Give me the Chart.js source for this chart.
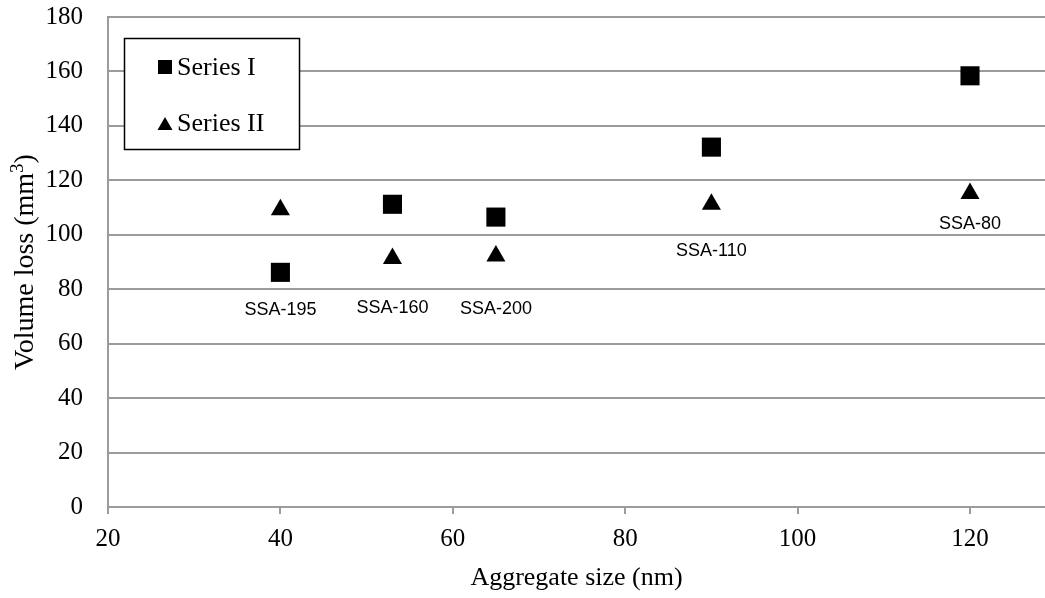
<!DOCTYPE html>
<html>
<head>
<meta charset="utf-8">
<script src="https://cdn.jsdelivr.net/npm/chart.js@4/dist/chart.umd.min.js"></script>
<style>
  html, body { margin: 0; padding: 0; background: #fff; overflow: hidden; }
  #wrap { width: 1045px; height: 598px; position: relative; }
  canvas { display: block; }
</style>
</head>
<body>
<div id="wrap"><canvas id="chart"></canvas></div>
<script>
// Aggregate size (nm) for each sample
const sizes = [40, 53, 65, 90, 120];
const seriesI = [86.2, 111.2, 106.5, 132.2, 158.4];
const seriesII = [109.2, 91.3, 92.2, 111.2, 115.2];
const sampleNames = ['SSA-195', 'SSA-160', 'SSA-200', 'SSA-110', 'SSA-80'];
// where each sample name sits, in y-axis units
const nameLevels = [72.4, 73.1, 72.7, 94.0, 104.0];
const xTicks = [20, 40, 60, 80, 100, 120];
const yTicks = [0, 20, 40, 60, 80, 100, 120, 140, 160, 180];

const gridGray = '#9b9b9b';
const serif = '"Liberation Serif", "Times New Roman", serif';

// sample names written under the markers
const sampleNamesPlugin = {
    id: 'sampleNames',
    afterDatasetsDraw(chart) {
        const ctx = chart.ctx;
        const xs = chart.scales.x, ys = chart.scales.y;
        ctx.save();
        ctx.fillStyle = '#000';
        ctx.font = '18px "Liberation Sans", Arial, sans-serif';
        ctx.textAlign = 'center';
        ctx.textBaseline = 'middle';
        sampleNames.forEach((name, i) => {
            ctx.fillText(name, xs.getPixelForValue(sizes[i]), ys.getPixelForValue(nameLevels[i]));
        });
        ctx.restore();
    }
};

// y title drawn by hand so the "3" can be a real superscript
const yTitlePlugin = {
    id: 'yTitle',
    afterDraw(chart) {
        const ctx = chart.ctx;
        const area = chart.chartArea;
        const main = 'Volume loss (mm', sup = '3', tail = ')';
        ctx.save();
        ctx.fillStyle = '#000';
        ctx.textBaseline = 'middle';
        ctx.textAlign = 'left';
        ctx.translate(26, (area.top + area.bottom) / 2);
        ctx.rotate(-Math.PI / 2);
        ctx.font = '28px ' + serif;
        const wMain = ctx.measureText(main).width;
        const wTail = ctx.measureText(tail).width;
        ctx.font = '19px ' + serif;
        const wSup = ctx.measureText(sup).width;
        let x = -(wMain + wSup + wTail) / 2;
        ctx.font = '28px ' + serif;
        ctx.fillText(main, x, 0);
        x += wMain;
        ctx.font = '19px ' + serif;
        ctx.fillText(sup, x, -8);
        x += wSup;
        ctx.font = '28px ' + serif;
        ctx.fillText(tail, x, 0);
        ctx.restore();
    }
};

// boxed legend inside the plot, like the Excel one
const boxLegendPlugin = {
    id: 'boxLegend',
    afterDraw(chart) {
        const ctx = chart.ctx;
        ctx.save();
        ctx.fillStyle = '#fff';
        ctx.fillRect(124.5, 38.5, 175, 111);
        ctx.strokeStyle = '#000';
        ctx.lineWidth = 1.5;
        ctx.strokeRect(124.5, 38.5, 175, 111);

        ctx.fillStyle = '#000';
        // square marker
        ctx.fillRect(158, 60, 14, 14);
        // triangle marker
        ctx.beginPath();
        ctx.moveTo(165, 117);
        ctx.lineTo(172.5, 130);
        ctx.lineTo(157.5, 130);
        ctx.closePath();
        ctx.fill();

        ctx.font = '26px ' + serif;
        ctx.textAlign = 'left';
        ctx.textBaseline = 'middle';
        ctx.fillText(chart.data.datasets[0].label, 177, 68);
        ctx.fillText(chart.data.datasets[1].label, 177, 124);
        ctx.restore();
    }
};

const toPoints = ys => sizes.map((x, i) => ({ x: x, y: ys[i] }));

new Chart(document.getElementById('chart'), {
    type: 'scatter',
    data: {
        datasets: [{
            label: 'Series I',
            data: toPoints(seriesI),
            pointStyle: 'rect',
            pointRadius: 13.5,
            backgroundColor: '#000',
            borderColor: '#000',
            borderWidth: 0
        }, {
            label: 'Series II',
            data: toPoints(seriesII),
            pointStyle: 'triangle',
            pointRadius: 11,
            backgroundColor: '#000',
            borderColor: '#000',
            borderWidth: 0
        }]
    },
    options: {
        responsive: true,
        maintainAspectRatio: false,
        animation: false,
        layout: {
            autoPadding: false, // otherwise the big markers push the right edge in
            padding: { top: 17, right: 0, bottom: 0, left: 0 }
        },
        plugins: {
            legend: { display: false },
            tooltip: { enabled: false }
        },
        scales: {
            x: {
                type: 'linear',
                min: 20,
                max: 128.7,
                afterBuildTicks: scale => { scale.ticks = xTicks.map(v => ({ value: v })); },
                afterFit: scale => {
                    scale.height = 91;
                    scale.paddingLeft = 0;
                    scale.paddingRight = 0;
                },
                border: { color: gridGray, width: 2 },
                grid: {
                    drawOnChartArea: false,
                    drawTicks: true,
                    tickLength: 7,
                    color: gridGray,
                    lineWidth: 2
                },
                ticks: {
                    color: '#000',
                    font: { family: serif, size: 25 },
                    padding: 10,
                    maxRotation: 0
                },
                title: {
                    display: true,
                    text: 'Aggregate size (nm)',
                    color: '#000',
                    font: { family: serif, size: 26 },
                    padding: { top: 4, bottom: 4 }
                }
            },
            y: {
                type: 'linear',
                min: 0,
                max: 180,
                afterBuildTicks: scale => { scale.ticks = yTicks.map(v => ({ value: v })); },
                afterFit: scale => {
                    scale.width = 108;
                    scale.paddingTop = 0;
                    scale.paddingBottom = 0;
                },
                border: { color: gridGray, width: 2 },
                grid: {
                    drawTicks: false,
                    color: gridGray,
                    lineWidth: 2
                },
                ticks: {
                    color: '#000',
                    font: { family: serif, size: 25 },
                    padding: 25
                },
                title: { display: false }
            }
        }
    },
    plugins: [sampleNamesPlugin, yTitlePlugin, boxLegendPlugin]
});
</script>
</body>
</html>
